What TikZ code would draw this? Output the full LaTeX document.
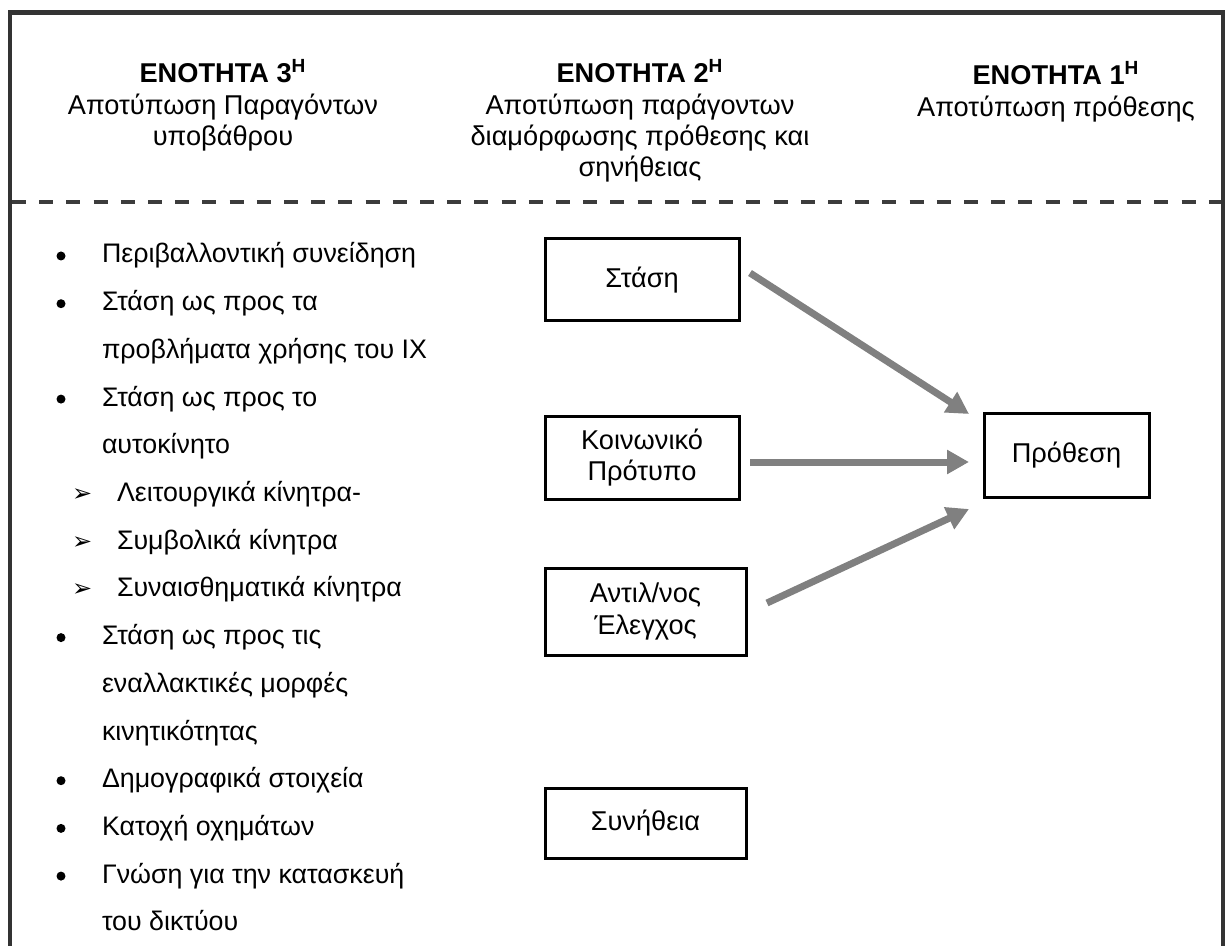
\documentclass[tikz,border=0pt]{standalone}
\usepackage{fontspec}
\setmainfont{Liberation Sans}
\newfontfamily\dingfont{DejaVu Sans}
\usetikzlibrary{arrows.meta,calc}
\definecolor{framegray}{HTML}{333333}
\definecolor{dashgray}{HTML}{3C3C3C}
\definecolor{arrowgray}{HTML}{808080}

\begin{document}
\begin{tikzpicture}[x=0.5pt,y=-0.5pt,
  every node/.style={inner sep=0pt,outer sep=0pt},
  body/.style={font=\fontsize{13.6}{15.6}\selectfont},
  item/.style={font=\fontsize{13.4}{15.6}\selectfont,anchor=base west},
  hdr/.style={body,anchor=base},
  hdrbold/.style={anchor=base,font=\fontsize{13.6}{15.6}\selectfont\bfseries},
  dot/.style={circle,fill=black,minimum size=4.5pt},
  subarrow/.style={font=\dingfont\fontsize{12}{14}\selectfont,anchor=base west},
  factor/.style={draw,line width=1.5pt,body,align=center},
  link/.style={arrowgray,line width=3.5pt,-{Triangle[length=11pt,width=11.5pt]}}
]
\clip (0,0) rectangle (1225,946);
\fill[white] (0,0) rectangle (1225,946);

% outer frame (runs on past the lower edge)
\draw[framegray,line width=2.25pt] (10,1000) -- (10,12.5) -- (1223,12.5) -- (1223,1000);

% separator between headings and content
\draw[dashgray,line width=2.25pt,dash pattern=on 7pt off 6.6pt] (12,202) -- (1221,202);

% headings
\node[hdrbold] (h3a) at (223,83) {ΕΝΟΤΗΤΑ 3\textsuperscript{Η}};
\node[hdr] (h3b) at (223,115) {Αποτύπωση Παραγόντων};
\node[hdr] (h3c) at (223,146) {υποβάθρου};

\node[hdrbold] (h2a) at (640,83) {ΕΝΟΤΗΤΑ 2\textsuperscript{Η}};
\node[hdr] (h2b) at (640,115) {Αποτύπωση παράγοντων};
\node[hdr] (h2c) at (640,146) {διαμόρφωσης πρόθεσης και};
\node[hdr] (h2d) at (640,177) {σηνήθειας};

\node[hdrbold] (h1a) at (1056,85) {ΕΝΟΤΗΤΑ 1\textsuperscript{Η}};
\node[hdr] (h1b) at (1056,117) {Αποτύπωση πρόθεσης};

% background factors list
\node[dot] (d0) at (61,256) {};
\node[item] (t0) at (102,263) {Περιβαλλοντική συνείδηση};
\node[dot] (d1) at (61,303.7) {};
\node[item] (t1) at (102,310.7) {Στάση ως προς τα};
\node[item] (t2) at (102,358.4) {προβλήματα χρήσης του ΙΧ};
\node[dot] (d3) at (61,399.1) {};
\node[item] (t3) at (102,406.1) {Στάση ως προς το};
\node[item] (t4) at (102,453.8) {αυτοκίνητο};
\node[subarrow] (s5) at (72,501.5) {➢};
\node[item] (t5) at (117,501.5) {Λειτουργικά κίνητρα-};
\node[subarrow] (s6) at (72,549.2) {➢};
\node[item] (t6) at (117,549.2) {Συμβολικά κίνητρα};
\node[subarrow] (s7) at (72,596.9) {➢};
\node[item] (t7) at (117,596.9) {Συναισθηματικά κίνητρα};
\node[dot] (d8) at (61,637.6) {};
\node[item] (t8) at (102,644.6) {Στάση ως προς τις};
\node[item] (t9) at (102,692.3) {εναλλακτικές μορφές};
\node[item] (t10) at (102,740) {κινητικότητας};
\node[dot] (d11) at (61,780.7) {};
\node[item] (t11) at (102,787.7) {Δημογραφικά στοιχεία};
\node[dot] (d12) at (61,828.4) {};
\node[item] (t12) at (102,835.4) {Κατοχή οχημάτων};
\node[dot] (d13) at (61,876.1) {};
\node[item] (t13) at (102,883.1) {Γνώση για την κατασκευή};
\node[item] (t14) at (102,930.8) {του δικτύου};

% intention-forming factors
\node[factor,minimum width=97pt,minimum height=41pt] (stasi) at (642,280) {Στάση};
\node[factor,minimum width=97pt,minimum height=41.5pt] (protypo) at (642,457.5) {Κοινωνικό\\Πρότυπο};
\node[factor,minimum width=100.5pt,minimum height=43.5pt] (elegxos) at (645.5,611.5) {Αντιλ/νος\\Έλεγχος};
\node[factor,minimum width=100.5pt,minimum height=35pt] (synitheia) at (645.5,823) {Συνήθεια};

% intention
\node[factor,minimum width=82.5pt,minimum height=42pt] (prothesi) at (1066.5,455) {Πρόθεση};

% arrow ends beside the boxes
\coordinate (a1s) at (750,273);
\coordinate (a1e) at (969,414);
\coordinate (a2s) at (750,462);
\coordinate (a2e) at (969,462);
\coordinate (a3s) at (767,603);
\coordinate (a3e) at (969,509);

\draw[link] (a1s) -- (a1e);
\draw[link] (a2s) -- (a2e);
\draw[link] (a3s) -- (a3e);
\end{tikzpicture}
\end{document}
